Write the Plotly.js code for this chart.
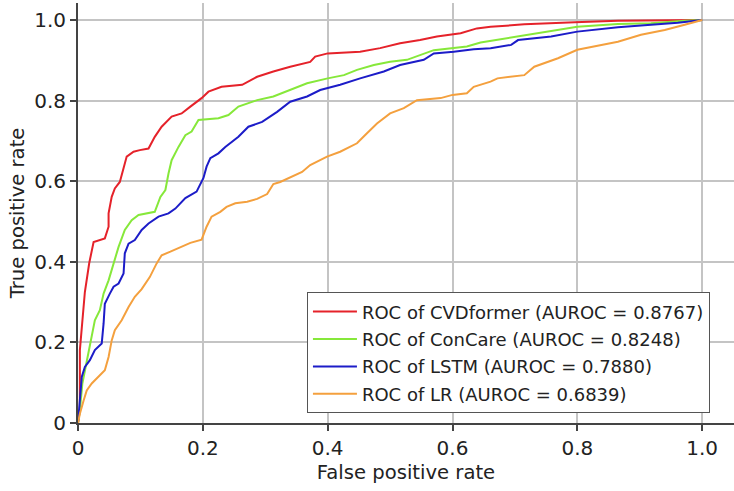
<!DOCTYPE html>
<html>
<head>
<meta charset="utf-8">
<script src="https://cdn.plot.ly/plotly-3.0.1.min.js"></script>
<style>
  html, body { margin: 0; padding: 0; background: #fff; }
  #chart { width: 734px; height: 491px; }
</style>
</head>
<body>
<div id="chart"></div>
<script>
// ROC points (false positive rate / true positive rate)
const cvdFpr = [0, 0.003, 0.003, 0.007, 0.011, 0.018, 0.025, 0.043, 0.049, 0.049, 0.054, 0.059, 0.067, 0.078, 0.089, 0.099, 0.113, 0.123, 0.134, 0.150, 0.166, 0.180, 0.198, 0.209, 0.230, 0.263, 0.287, 0.313, 0.340, 0.372, 0.380, 0.400, 0.452, 0.484, 0.516, 0.548, 0.575, 0.613, 0.639, 0.661, 0.715, 0.796, 0.865, 1];
const cvdTpr = [0, 0.032, 0.181, 0.255, 0.325, 0.397, 0.449, 0.458, 0.487, 0.520, 0.561, 0.582, 0.598, 0.661, 0.673, 0.677, 0.681, 0.710, 0.735, 0.760, 0.768, 0.785, 0.806, 0.822, 0.834, 0.839, 0.859, 0.872, 0.884, 0.896, 0.909, 0.917, 0.921, 0.930, 0.942, 0.950, 0.959, 0.967, 0.979, 0.983, 0.989, 0.994, 0.998, 1];

const conFpr = [0, 0.003, 0.007, 0.014, 0.022, 0.027, 0.035, 0.041, 0.049, 0.057, 0.065, 0.075, 0.086, 0.097, 0.110, 0.123, 0.132, 0.140, 0.145, 0.150, 0.161, 0.172, 0.182, 0.193, 0.225, 0.241, 0.257, 0.287, 0.313, 0.340, 0.367, 0.400, 0.426, 0.447, 0.474, 0.500, 0.527, 0.570, 0.600, 0.623, 0.645, 0.705, 0.758, 0.800, 0.865, 0.918, 0.972, 1];
const conTpr = [0, 0.032, 0.098, 0.156, 0.214, 0.255, 0.280, 0.321, 0.354, 0.396, 0.437, 0.479, 0.503, 0.516, 0.520, 0.524, 0.561, 0.578, 0.619, 0.652, 0.685, 0.714, 0.723, 0.752, 0.756, 0.764, 0.785, 0.801, 0.810, 0.826, 0.843, 0.855, 0.863, 0.876, 0.888, 0.896, 0.901, 0.925, 0.930, 0.934, 0.944, 0.959, 0.971, 0.983, 0.990, 0.992, 0.998, 1];

const lstmFpr = [0, 0.002, 0.003, 0.006, 0.011, 0.019, 0.027, 0.038, 0.041, 0.043, 0.051, 0.057, 0.065, 0.073, 0.075, 0.081, 0.091, 0.102, 0.113, 0.129, 0.145, 0.156, 0.172, 0.190, 0.201, 0.206, 0.212, 0.225, 0.236, 0.247, 0.257, 0.273, 0.295, 0.319, 0.340, 0.367, 0.388, 0.420, 0.452, 0.490, 0.516, 0.554, 0.570, 0.602, 0.634, 0.661, 0.694, 0.705, 0.758, 0.800, 0.865, 0.918, 0.961, 1];
const lstmTpr = [0, 0.032, 0.056, 0.114, 0.139, 0.156, 0.181, 0.197, 0.247, 0.296, 0.321, 0.338, 0.346, 0.371, 0.421, 0.445, 0.454, 0.479, 0.495, 0.512, 0.520, 0.532, 0.558, 0.574, 0.608, 0.636, 0.657, 0.669, 0.685, 0.698, 0.710, 0.735, 0.747, 0.772, 0.797, 0.810, 0.826, 0.839, 0.855, 0.872, 0.888, 0.901, 0.917, 0.921, 0.927, 0.930, 0.938, 0.950, 0.959, 0.971, 0.982, 0.988, 0.993, 1];

const lrFpr = [0, 0.003, 0.009, 0.014, 0.022, 0.033, 0.043, 0.049, 0.054, 0.059, 0.070, 0.081, 0.091, 0.102, 0.115, 0.126, 0.134, 0.148, 0.164, 0.180, 0.198, 0.206, 0.214, 0.228, 0.238, 0.252, 0.271, 0.287, 0.303, 0.313, 0.324, 0.345, 0.359, 0.372, 0.399, 0.420, 0.447, 0.463, 0.479, 0.500, 0.522, 0.543, 0.581, 0.600, 0.623, 0.634, 0.661, 0.672, 0.715, 0.731, 0.769, 0.800, 0.828, 0.865, 0.902, 0.940, 0.972, 1];
const lrTpr = [0, 0.023, 0.056, 0.081, 0.098, 0.114, 0.131, 0.164, 0.205, 0.230, 0.255, 0.288, 0.313, 0.332, 0.362, 0.396, 0.416, 0.425, 0.437, 0.447, 0.455, 0.487, 0.512, 0.524, 0.536, 0.545, 0.549, 0.556, 0.568, 0.593, 0.598, 0.613, 0.623, 0.640, 0.661, 0.673, 0.694, 0.719, 0.743, 0.768, 0.781, 0.801, 0.806, 0.814, 0.818, 0.834, 0.847, 0.855, 0.863, 0.884, 0.905, 0.926, 0.934, 0.946, 0.963, 0.975, 0.988, 1];

const seriesNames = [
    'ROC of CVDformer (AUROC = 0.8767)',
    'ROC of ConCare (AUROC = 0.8248)',
    'ROC of LSTM (AUROC = 0.7880)',
    'ROC of LR (AUROC = 0.6839)'
];
const seriesColors = ['#e5222a', '#86e83a', '#1c1cc8', '#f4a03e'];
const tickVals = [0, 0.2, 0.4, 0.6, 0.8, 1.0];
const tickText = ['0', '0.2', '0.4', '0.6', '0.8', '1.0'];

const xs = [cvdFpr, conFpr, lstmFpr, lrFpr];
const ys = [cvdTpr, conTpr, lstmTpr, lrTpr];

const data = xs.map((x, i) => ({
    x: x,
    y: ys[i],
    type: 'scatter',
    mode: 'lines',
    name: seriesNames[i],
    legendgroup: 'g' + i,
    line: { color: seriesColors[i], width: 2 }
}));

const axisCommon = {
    tickvals: tickVals,
    ticktext: tickText,
    showgrid: true,
    gridcolor: '#c4c4c4',
    gridwidth: 2,
    zeroline: false,
    showline: true,
    linecolor: '#444',
    linewidth: 2,
    ticks: 'outside',
    ticklen: 6,
    tickwidth: 2,
    tickcolor: '#444',
    tickfont: { size: 20, color: '#222' }
};

const layout = {
    width: 734,
    height: 491,
    margin: { l: 78, r: 0, t: 3, b: 68 },
    paper_bgcolor: '#fff',
    plot_bgcolor: '#fff',
    font: { family: 'DejaVu Sans, Arial, sans-serif', color: '#222' },
    xaxis: Object.assign({}, axisCommon, {
        range: [0, 1.051],
        title: { text: 'False positive rate', font: { size: 19.6 }, standoff: 6 }
    }),
    yaxis: Object.assign({}, axisCommon, {
        range: [0, 1.042],
        title: { text: 'True positive rate', font: { size: 19.6 }, standoff: 4 }
    }),
    legend: {
        x: 0.349, y: 0.311,
        xanchor: 'left', yanchor: 'top',
        bgcolor: '#fff',
        bordercolor: '#555',
        borderwidth: 1,
        itemwidth: 44,
        font: { size: 18, color: '#222' },
        tracegroupgap: 1
    },
    showlegend: true
};

Plotly.newPlot('chart', data, layout, { displayModeBar: false, staticPlot: true });
</script>
</body>
</html>
